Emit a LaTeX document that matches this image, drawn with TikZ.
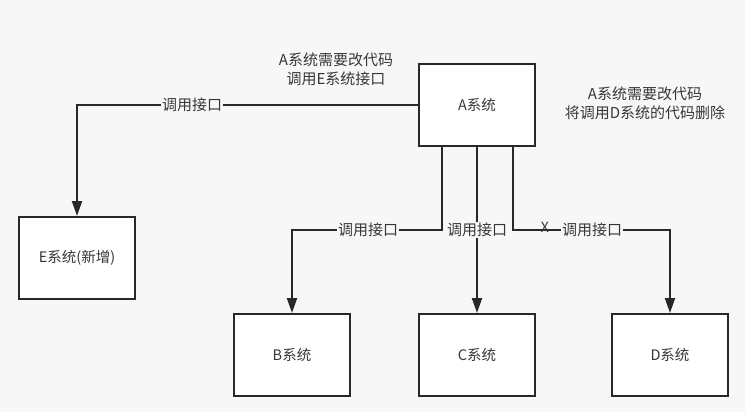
\documentclass[tikz,border=0pt]{standalone}
\usepackage{fontspec}
\setmainfont{Noto Sans CJK SC}
\usetikzlibrary{arrows.meta}
\definecolor{bgcol}{RGB}{247,247,247}
\definecolor{linecol}{RGB}{40,40,40}
\definecolor{txtcol}{RGB}{55,55,55}
\tikzset{
  sysbox/.style={draw=linecol,line width=2pt,fill=white,minimum width=116pt,minimum height=82pt,text=txtcol,font=\fontsize{14.5}{17}\selectfont},
  wire/.style={draw=linecol,line width=2pt},
  call/.style={wire,-{Triangle[length=15pt,width=10pt]}},
  lbl/.style={fill=bgcol,text=txtcol,inner sep=1pt,font=\fontsize{15}{17}\selectfont},
  note/.style={text=txtcol,align=center,font=\fontsize{15}{19}\selectfont}
}
\begin{document}
\begin{tikzpicture}[x=1pt,y=-1pt]
     \fill[bgcol] (0,0) rectangle (745,412);
     \useasboundingbox (0,0) rectangle (745,412);

     \node[sysbox] (A) at (477,105) {A系统};
     \node[sysbox] (E) at (77,258) {E系统(新增)};
     \node[sysbox] (B) at (292,355) {B系统};
     \node[sysbox] (C) at (477,355) {C系统};
     \node[sysbox] (D) at (670,355) {D系统};

     \node[note] (noteE) at (336,69) {A系统需要改代码\\调用E系统接口};
     \node[note] (noteD) at (645,103) {A系统需要改代码\\将调用D系统的代码删除};

     \coordinate (aB) at (442,146);
     \coordinate (kB) at (442,230);
     \coordinate (aD) at (513,146);
     \coordinate (kD) at (513,230);

     \draw[call] (A.west) -| (E.north);
     \draw[call] (aB) -- (kB) -| (B.north);
     \draw[call] (A.south) -- (C.north);
     \draw[call] (aD) -- (kD) -| (D.north);

     \node[lbl] (lE) at (192,105) {调用接口};
     \node[lbl] (lB) at (368,230) {调用接口};
     \node[lbl] (lC) at (477,230) {调用接口};
     \node[lbl] (lD) at (592,230) {调用接口};
     \node[text=txtcol,font=\fontsize{14}{16}\selectfont] (cut) at (545,227) {X};
\end{tikzpicture}
\end{document}
